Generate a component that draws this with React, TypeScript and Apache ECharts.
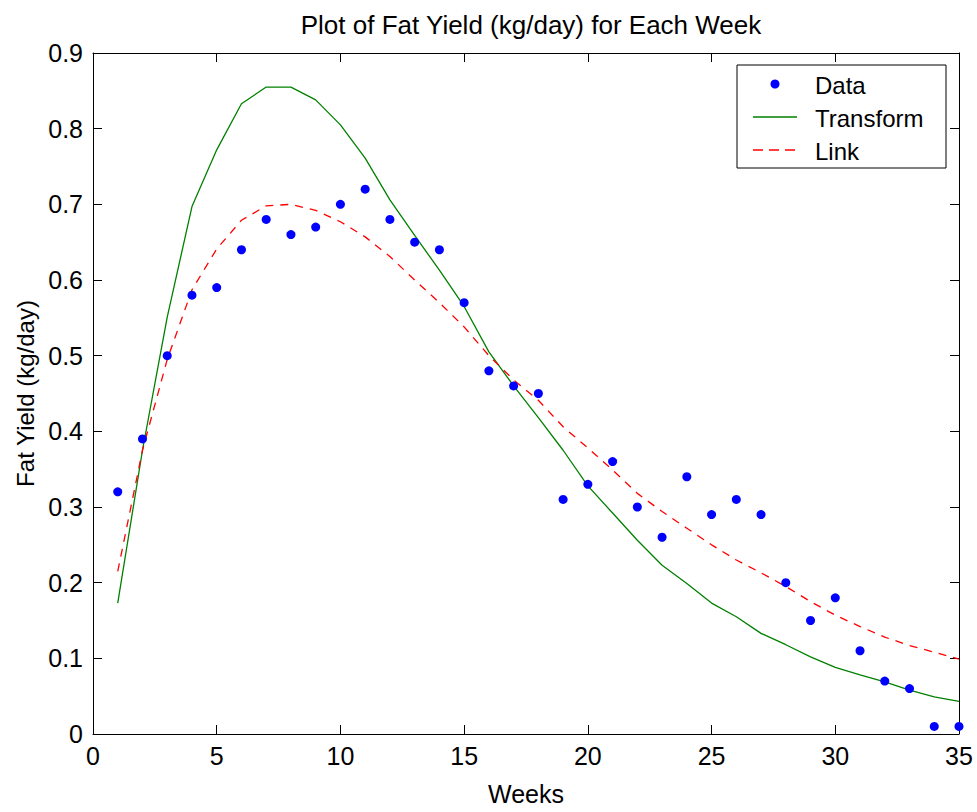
import React, { useEffect, useRef } from "react";
import * as echarts from "echarts";

const weeks = [1, 2, 3, 4, 5, 6, 7, 8, 9, 10, 11, 12, 13, 14, 15, 16, 17, 18, 19, 20, 21, 22, 23, 24, 25, 26, 27, 28, 29, 30, 31, 32, 33, 34, 35];

const fatYield = [0.32, 0.39, 0.5, 0.58, 0.59, 0.64, 0.68, 0.66, 0.67, 0.7, 0.72, 0.68, 0.65, 0.64, 0.57, 0.48, 0.46, 0.45, 0.31, 0.33, 0.36, 0.3, 0.26, 0.34, 0.29, 0.31, 0.29, 0.2, 0.15, 0.18, 0.11, 0.07, 0.06, 0.01, 0.01];

const transformFit = [0.173, 0.375, 0.551, 0.697, 0.772, 0.833, 0.855, 0.855, 0.838, 0.805, 0.761, 0.706, 0.659, 0.613, 0.565, 0.505, 0.46, 0.418, 0.375, 0.328, 0.292, 0.256, 0.223, 0.199, 0.173, 0.155, 0.133, 0.118, 0.102, 0.088, 0.078, 0.069, 0.058, 0.049, 0.043];

const linkFit = [0.215, 0.375, 0.495, 0.587, 0.641, 0.679, 0.698, 0.7, 0.692, 0.677, 0.657, 0.631, 0.6, 0.57, 0.538, 0.5, 0.468, 0.441, 0.406, 0.378, 0.349, 0.318, 0.294, 0.272, 0.25, 0.23, 0.213, 0.195, 0.175, 0.157, 0.142, 0.128, 0.117, 0.108, 0.099];

const legendNames = ["Data", "Transform", "Link"];
const titleText = "Plot of Fat Yield (kg/day) for Each Week";
const xName = "Weeks";
const yName = "Fat Yield (kg/day)";

const FONT = '"Liberation Sans", Arial, sans-serif';

export default function App() {
  const ref = useRef<HTMLDivElement>(null);

  useEffect(() => {
    const chart = echarts.init(ref.current as HTMLDivElement, null, { renderer: "svg" });
    const axisLine = { show: true, onZero: false, lineStyle: { color: "#000", width: 1 } };
    const axisTick = { show: true, inside: true, length: 9, lineStyle: { color: "#000", width: 1 } };

    chart.setOption({
      animation: false,
      backgroundColor: "#ffffff",
      title: {
        text: titleText,
        left: 526,
        textAlign: "center",
        top: 7,
        textStyle: { fontFamily: FONT, fontSize: 26, fontWeight: "normal", color: "#000" },
      },
      grid: { left: 93, right: 18, top: 53, bottom: 78, containLabel: false },
      xAxis: [
        {
          type: "value",
          position: "bottom",
          min: 0,
          max: 35,
          interval: 5,
          axisLine,
          axisTick,
          splitLine: { show: false },
          axisLabel: { fontFamily: FONT, fontSize: 25, color: "#000", margin: 9 },
          name: xName,
          nameLocation: "middle",
          nameGap: 47,
          nameTextStyle: { fontFamily: FONT, fontSize: 25, color: "#000" },
        },
        {
          type: "value",
          position: "top",
          min: 0,
          max: 35,
          interval: 5,
          axisLine,
          axisTick,
          splitLine: { show: false },
          axisLabel: { show: false },
        },
      ],
      yAxis: [
        {
          type: "value",
          position: "left",
          min: 0,
          max: 0.9,
          interval: 0.1,
          axisLine,
          axisTick,
          splitLine: { show: false },
          axisLabel: { fontFamily: FONT, fontSize: 25, color: "#000", margin: 10 },
          name: yName,
          nameLocation: "middle",
          nameGap: 55,
          nameRotate: 90,
          nameTextStyle: { fontFamily: FONT, fontSize: 24, color: "#000" },
        },
        {
          type: "value",
          position: "right",
          min: 0,
          max: 0.9,
          interval: 0.1,
          axisLine,
          axisTick,
          splitLine: { show: false },
          axisLabel: { show: false },
        },
      ],
      series: [
        {
          name: legendNames[1],
          type: "line",
          xAxisIndex: 0,
          yAxisIndex: 0,
          data: weeks.map((w, i) => [w, transformFit[i]]),
          symbol: "none",
          lineStyle: { color: "#008000", width: 1.3 },
          itemStyle: { color: "#008000" },
          z: 2,
        },
        {
          name: legendNames[2],
          type: "line",
          xAxisIndex: 0,
          yAxisIndex: 0,
          data: weeks.map((w, i) => [w, linkFit[i]]),
          symbol: "none",
          lineStyle: { color: "#ff0000", width: 1.3, type: [8, 7] },
          itemStyle: { color: "#ff0000" },
          z: 3,
        },
        {
          name: legendNames[0],
          type: "scatter",
          xAxisIndex: 0,
          yAxisIndex: 0,
          data: weeks.map((w, i) => [w, fatYield[i]]),
          symbol: "circle",
          symbolSize: 9,
          clip: false,
          itemStyle: { color: "#0000ff", opacity: 1 },
          z: 4,
        },
      ],
      graphic: [
        {
          type: "rect",
          z: 100,
          shape: { x: 737, y: 65, width: 209, height: 103 },
          style: { fill: "#ffffff", stroke: "#000", lineWidth: 1 },
        },
        {
          type: "circle",
          z: 101,
          shape: { cx: 775, cy: 84, r: 4.5 },
          style: { fill: "#0000ff" },
        },
        {
          type: "line",
          z: 101,
          shape: { x1: 753, y1: 117, x2: 797, y2: 117 },
          style: { stroke: "#008000", lineWidth: 1.3 },
        },
        {
          type: "line",
          z: 101,
          shape: { x1: 753, y1: 150, x2: 797, y2: 150 },
          style: { stroke: "#ff0000", lineWidth: 1.3, lineDash: [10, 6] },
        },
        ...legendNames.map((n, i) => ({
          type: "text",
          z: 101,
          x: 815,
          y: 85 + i * 33,
          style: {
            text: n,
            fontFamily: FONT,
            fontSize: 24,
            fill: "#000",
            verticalAlign: "middle",
            align: "left",
          },
        })),
      ],
    });

    return () => {
      chart.dispose();
    };
  }, []);

  return (
    <div
      ref={ref}
      style={{ position: "absolute", left: 0, top: 0, width: 977, height: 812, background: "#fff" }}
    />
  );
}
